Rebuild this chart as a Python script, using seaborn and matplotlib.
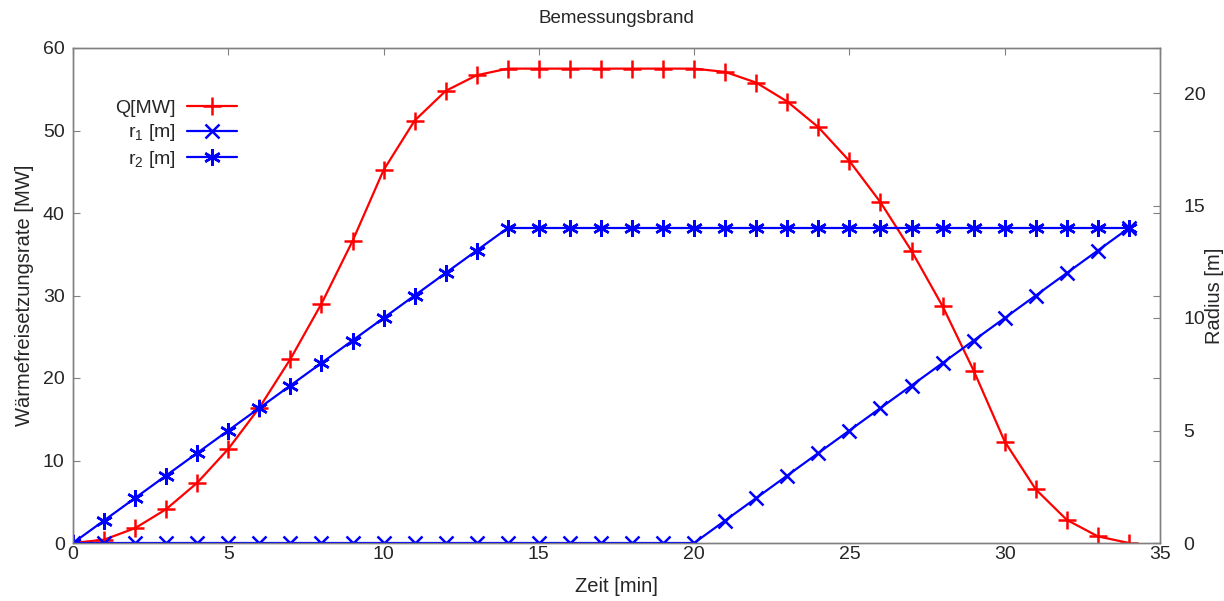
import numpy as np
import pandas as pd
import seaborn as sns
import matplotlib
matplotlib.use("Agg")
import matplotlib.pyplot as plt

# === Daten ===
zeit = list(range(0, 35))
q_mw = [0.0, 0.4, 1.8, 4.1, 7.3, 11.4, 16.4, 22.3, 29.0, 36.6,
        45.2, 51.2, 54.8, 56.7, 57.5, 57.5, 57.5, 57.5, 57.5, 57.5,
        57.5, 57.1, 55.8, 53.5, 50.4, 46.3, 41.3, 35.4, 28.7, 20.9,
        12.3, 6.5, 2.8, 0.8, 0.0]
r1_m = [0, 0, 0, 0, 0, 0, 0, 0, 0, 0,
        0, 0, 0, 0, 0, 0, 0, 0, 0, 0,
        0, 1, 2, 3, 4, 5, 6, 7, 8, 9,
        10, 11, 12, 13, 14]
r2_m = [0, 1, 2, 3, 4, 5, 6, 7, 8, 9,
        10, 11, 12, 13, 14, 14, 14, 14, 14, 14,
        14, 14, 14, 14, 14, 14, 14, 14, 14, 14,
        14, 14, 14, 14, 14]

df = pd.DataFrame({"Zeit": zeit, "Q": q_mw, "r1": r1_m, "r2": r2_m})

# === Stil ===
sns.set_style("white")
plt.rcParams["font.family"] = ["Liberation Sans", "DejaVu Sans"]
plt.rcParams["mathtext.fontset"] = "custom"
plt.rcParams["mathtext.rm"] = "Liberation Sans"
plt.rcParams["mathtext.it"] = "Liberation Sans"
plt.rcParams["xtick.direction"] = "in"
plt.rcParams["ytick.direction"] = "in"

fig = plt.figure(figsize=(12.24, 6.01), dpi=100)
ax = fig.add_axes([73 / 1224, 1 - 543 / 601, (1160 - 73) / 1224, (543 - 48) / 601])
ax2 = ax.twinx()

RED, BLUE = "#ff0000", "#0000ff"
sns.lineplot(data=df, x="Zeit", y="Q", ax=ax, color=RED, lw=1.6,
             marker="+", markersize=13, markeredgewidth=1.8, mec=RED,
             label="Q[MW]", legend=False)
sns.lineplot(data=df, x="Zeit", y="r1", ax=ax2, color=BLUE, lw=1.6,
             marker="x", markersize=10, markeredgewidth=1.8, mec=BLUE,
             label="r$_1$ [m]", legend=False)
sns.lineplot(data=df, x="Zeit", y="r2", ax=ax2, color=BLUE, lw=1.6,
             marker=(6, 2, 0), markersize=12, markeredgewidth=1.8, mec=BLUE,
             label="r$_2$ [m]", legend=False)

ax.set_xlim(0, 35)
ax.set_ylim(0, 60)
ax2.set_ylim(0, 22)
ax.set_xticks(range(0, 36, 5))
ax.set_yticks(range(0, 61, 10))
ax2.set_yticks(range(0, 21, 5))

ax.tick_params(axis="both", labelsize=14, length=5, width=0.8, color="#808080",
               top=True, right=True)
ax.tick_params(axis="x", pad=2)
ax.tick_params(axis="y", pad=6)
ax2.tick_params(axis="y", labelsize=14, length=5, width=0.8, color="#808080", pad=17)

for a in (ax, ax2):
    for s in a.spines.values():
        s.set_color("#808080")
        s.set_linewidth(1.0)

ax.set_xlabel("Zeit [min]", fontsize=14.5, labelpad=10)
ax.set_ylabel("Wärmefreisetzungsrate [MW]", fontsize=14.5, labelpad=6)
ax2.set_ylabel("Radius [m]", fontsize=14.5)
ax2.yaxis.set_label_coords(1.041, 0.5)
ax.set_title("Bemessungsbrand", fontsize=13.5, pad=18)

h1, l1 = ax.get_legend_handles_labels()
h2, l2 = ax2.get_legend_handles_labels()
ax2.legend(h1 + h2, l1 + l2, loc="upper right", bbox_to_anchor=(0.151, 0.897),
           frameon=False, markerfirst=False, fontsize=14, handlelength=2.6,
           labelspacing=0.3, handletextpad=0.55, borderpad=0, borderaxespad=0)

fig.savefig("out.png", dpi=100)
